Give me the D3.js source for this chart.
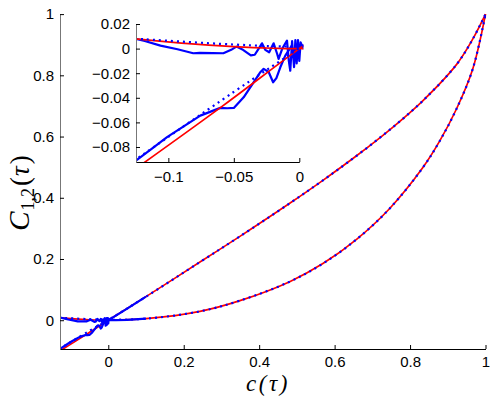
<!DOCTYPE html>
<html>
<head>
<meta charset="utf-8">
<script src="https://cdn.jsdelivr.net/npm/d3@7"></script>
<style>
  html, body { margin: 0; padding: 0; background: #fff; }
  #chart { width: 498px; height: 396px; }
  .tick text { font-family: "Liberation Sans", Arial, sans-serif; font-size: 15px; fill: #000; }
  .axis path.domain { stroke: #000; }
  .axis .tick line { stroke: #000; }
  .axis.left path.domain { stroke: #777; }
  .mathlabel { font-family: "Liberation Serif", "DejaVu Serif", serif; fill: #000; }
</style>
</head>
<body>
<div id="chart"></div>
<script>
'use strict';

// main panel ticks
const MAIN_X_TICKS = [0, 0.2, 0.4, 0.6, 0.8, 1];
const MAIN_Y_TICKS = [0, 0.2, 0.4, 0.6, 0.8, 1];
// inset ticks
const INSET_X_TICKS = [-0.1, -0.05, 0];
const INSET_Y_TICKS = [0.02, 0, -0.02, -0.04, -0.06, -0.08];

// theory (red solid), [c, C12] pairs
const theoryUpper = [
  [-0.13, -0.1015], [-0.06, -0.0478], [0, 0], [0.1, 0.077], [0.243, 0.19],
  [0.349, 0.274], [0.481, 0.382], [0.569, 0.457], [0.659, 0.538], [0.746, 0.622],
  [0.833, 0.716], [0.923, 0.835], [0.966, 0.918], [1, 1],
];
const theoryLower = [
  [-0.13, 0.0085], [-0.125, 0.0079], [-0.09, 0.0045], [-0.05, 0.0016], [-0.02, 0.0003],
  [0, 0], [0.1, 0.005], [0.243, 0.029], [0.349, 0.064], [0.481, 0.126], [0.569, 0.185],
  [0.659, 0.265], [0.746, 0.365], [0.833, 0.497], [0.878, 0.584], [0.923, 0.69],
  [0.966, 0.82], [1, 1],
];

// averaged simulation (blue dotted)
const simUpper = [
  [-0.13, -0.0945], [-0.124, -0.0897], [-0.05, -0.0352], [0.002, 0.002], [0.1, 0.077],
  [0.243, 0.19], [0.349, 0.274], [0.481, 0.382], [0.569, 0.457], [0.659, 0.538],
  [0.746, 0.622], [0.833, 0.716], [0.923, 0.835], [0.966, 0.918], [1, 1],
];
const simLower = [
  [-0.13, 0.0082], [-0.125, 0.008], [-0.05, 0.0033], [0.002, 0.0016], [0.1, 0.005],
  [0.243, 0.029], [0.349, 0.064], [0.481, 0.126], [0.569, 0.185], [0.659, 0.265],
  [0.746, 0.365], [0.833, 0.497], [0.878, 0.584], [0.923, 0.69], [0.966, 0.82], [1, 1],
];

// single noisy run (blue solid), only near the origin
const runFlat = [
  [-0.13, 0.0085], [-0.125, 0.008], [-0.118, 0.0062], [-0.106, 0.0024], [-0.093, -0.0005],
  [-0.081, -0.0038], [-0.076, -0.0035], [-0.066, -0.0036], [-0.058, -0.0038],
  [-0.052, -0.001], [-0.048, 0.0016], [-0.043, -0.001], [-0.037, -0.0055], [-0.034, -0.005],
  [-0.031, 0.0], [-0.0285, 0.0043], [-0.026, -0.001], [-0.023, -0.003], [-0.0196, 0.0043],
  [-0.017, -0.004], [-0.0158, -0.0084], [-0.013, 0.0], [-0.0094, 0.0065], [-0.008, -0.01],
  [-0.0069, -0.018], [-0.0055, 0.006], [-0.004, -0.015], [-0.003, 0.007], [-0.002, -0.012],
  [-0.001, 0.007], [0.0, -0.01], [0.001, 0.005], [0.003, 0.0], [0.02, 0.0003],
  [0.05, 0.0012], [0.1, 0.005],
];
const runSteep = [
  [-0.13, -0.0955], [-0.124, -0.0905], [-0.112, -0.081], [-0.101, -0.072], [-0.088, -0.063],
  [-0.0756, -0.0545], [-0.0603, -0.0482], [-0.055, -0.0485], [-0.05, -0.0482],
  [-0.0425, -0.0396], [-0.0349, -0.0274], [-0.03, -0.0195], [-0.0272, -0.0165],
  [-0.0234, -0.019], [-0.02, -0.0274], [-0.0175, -0.024], [-0.0145, -0.0152],
  [-0.0107, -0.0057], [-0.006, 0.002], [-0.003, -0.006], [0, 0], [0.02, 0.015],
  [0.05, 0.038], [0.1, 0.077],
];

const W = 498, H = 396;
const MAIN = { left: 60, right: 485.5, top: 14.1, bottom: 349 };
const INSET = { left: 136, right: 299.3, top: 24, bottom: 162 };
const RED = '#ff0000';
const BLUE = '#0000ff';

const svg = d3.select('#chart').append('svg')
  .attr('width', W).attr('height', H);

function drawPanel(box, xDomain, yDomain, xTicks, yTicks, fmt, id, order, xPad) {
  const x = d3.scaleLinear().domain(xDomain).range([box.left, box.right]);
  const y = d3.scaleLinear().domain(yDomain).range([box.bottom, box.top]);
  const g = svg.append('g');

  g.append('rect')
    .attr('x', box.left).attr('y', box.top)
    .attr('width', box.right - box.left).attr('height', box.bottom - box.top)
    .attr('fill', '#fff');

  g.append('clipPath').attr('id', id)
    .append('rect')
    .attr('x', box.left).attr('y', box.top - 2)
    .attr('width', box.right - box.left + 4).attr('height', box.bottom - box.top + 2);

  const line = d3.line().x(d => x(d[0])).y(d => y(d[1]));
  const smooth = d3.line().x(d => x(d[0])).y(d => y(d[1])).curve(d3.curveCatmullRom.alpha(0.5));

  const layers = {
    theory: () => [theoryUpper, theoryLower].forEach(s => plot.append('path')
      .attr('d', smooth(s)).attr('fill', 'none')
      .attr('stroke', RED).attr('stroke-width', 1.7)),
    sim: () => [simUpper, simLower].forEach(s => plot.append('path')
      .attr('d', smooth(s)).attr('fill', 'none')
      .attr('stroke', BLUE).attr('stroke-width', 2.2)
      .attr('stroke-dasharray', '2,4')),
    run: () => [runFlat, runSteep].forEach(s => plot.append('path')
      .attr('d', line(s)).attr('fill', 'none')
      .attr('stroke', BLUE).attr('stroke-width', 2.2)
      .attr('stroke-linejoin', 'round')),
  };

  const plot = g.append('g').attr('clip-path', `url(#${id})`);
  order.forEach(k => layers[k]());

  g.append('g')
    .attr('class', 'axis left')
    .attr('transform', `translate(${box.left},0)`)
    .call(d3.axisLeft(y).tickValues(yTicks).tickSizeInner(-4).tickSizeOuter(0)
      .tickPadding(6).tickFormat(fmt));

  g.append('g')
    .attr('class', 'axis bottom')
    .attr('transform', `translate(0,${box.bottom})`)
    .call(d3.axisBottom(x).tickValues(xTicks).tickSizeInner(-4).tickSizeOuter(0)
      .tickPadding(xPad).tickFormat(fmt));

  return { x, y };
}

const fmt = d => d3.format('~g')(d);

drawPanel(MAIN, [-0.128, 1], [-0.094, 1], MAIN_X_TICKS, MAIN_Y_TICKS, fmt, 'clipMain',
  ['theory', 'sim', 'run'], 7);
drawPanel(INSET, [-0.1247, 0], [-0.0922, 0.02], INSET_X_TICKS, INSET_Y_TICKS, fmt, 'clipInset',
  ['run', 'theory', 'sim'], 9);

// axis labels
svg.append('text')
  .attr('class', 'mathlabel')
  .attr('x', 268).attr('y', 391)
  .attr('text-anchor', 'middle')
  .attr('font-size', 23)
  .attr('font-style', 'italic')
  .attr('letter-spacing', 2.5)
  .text('c(τ)');

const yl = svg.append('text')
  .attr('class', 'mathlabel')
  .attr('transform', 'translate(29,193) rotate(-90)')
  .attr('text-anchor', 'middle')
  .attr('font-size', 27);
yl.append('tspan').attr('font-style', 'italic').attr('font-size', 29).text('C');
yl.append('tspan').attr('font-size', 18).attr('dy', 5).attr('dx', 1).text('1,2');
yl.append('tspan').attr('dy', -5).attr('dx', 2).text('(');
yl.append('tspan').attr('dx', 1).attr('font-style', 'italic').text('τ');
yl.append('tspan').attr('dx', 2).text(')');
</script>
</body>
</html>
